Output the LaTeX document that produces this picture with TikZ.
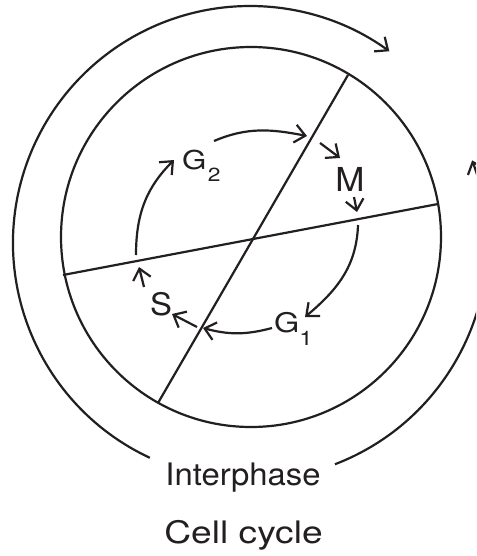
\documentclass[tikz,border=0pt]{standalone}
\usepackage{fontspec}
\setmainfont{TeX Gyre Heros}
\newfontfamily\widefont[FakeStretch=1.2]{TeX Gyre Heros}
\newfontfamily\midfont[FakeStretch=1.06]{TeX Gyre Heros}
\usetikzlibrary{arrows.meta}
\definecolor{ink}{RGB}{35,31,32}
\begin{document}
\begin{tikzpicture}[x=1pt,y=1pt,
  ln/.style={line width=2.2pt, draw=ink},
  arr/.style={ln, -{Straight Barb[length=10.5pt,width=18pt]}},
  lbl/.style={inner sep=0pt, anchor=base, text=ink},
  lblw/.style={inner sep=0pt, anchor=base west, text=ink}]
\useasboundingbox (0,0) rectangle (476,-556);
\clip (0,0) rectangle (476,-556);
\fill[white] (0,0) rectangle (476,-556);
% centres
\coordinate (oc) at (250,-243);
\coordinate (ic) at (251,-237);
% inner circle and dividing lines
\draw[ln] (ic) circle[radius=190];
\coordinate (l1a) at (348,-75);
\coordinate (l1b) at (158,-403);
\coordinate (l2a) at (438,-204);
\coordinate (l2b) at (63,-275);
\draw[ln] (l1a) -- (l1b);
\draw[ln] (l2a) -- (l2b);
% outer arcs
\coordinate (o1) at ([shift={(245:237)}]oc);
\coordinate (o2) at ([shift={(-69:237)}]oc);
\draw[arr] (o1) arc[start angle=245, end angle=54, radius=237];
\draw[arr] (o2) arc[start angle=-69, end angle=20.4, radius=237];
% labels
\node[lblw, font=\widefont\fontsize{26pt}{26pt}\selectfont] (g2) at (182,-169)
  {G\kern1.5pt\raisebox{-12pt}{\fontsize{19pt}{19pt}\selectfont 2}};
\node[lbl, font=\midfont\fontsize{33pt}{33pt}\selectfont] (m) at (350,-191) {M};
\node[lbl, font=\midfont\fontsize{31pt}{31pt}\selectfont] (s) at (161,-315) {S};
\node[lblw, font=\widefont\fontsize{27pt}{27pt}\selectfont] (g1) at (274,-332)
  {G\raisebox{-13pt}{\fontsize{20pt}{20pt}\selectfont 1}};
\node[lbl, font=\midfont\fontsize{31pt}{31pt}\selectfont] (inter) at (243,-485) {Interphase};
\node[lbl, font=\widefont\fontsize{31pt}{31pt}\selectfont] (cc) at (243.5,-543) {Cell cycle};
% inner arrows
\coordinate (a1s) at (136,-255); \coordinate (a1e) at (174,-160);
\draw[arr] (a1s) to[out=90,in=225] (a1e);
\coordinate (a2s) at (214,-141); \coordinate (a2e) at (307,-136);
\draw[arr] (a2s) to[out=23,in=169] (a2e);
\coordinate (a3s) at (320,-143); \coordinate (a3e) at (340,-158);
\draw[arr] (a3s) -- (a3e);
\coordinate (a4s) at (354,-197); \coordinate (a4e) at (357,-212);
\draw[arr] (a4s) -- (a4e);
\coordinate (a5s) at (358,-225); \coordinate (a5e) at (305,-317);
\draw[arr] (a5s) to[out=-92,in=40] (a5e);
\coordinate (a6s) at (272,-328); \coordinate (a6e) at (203,-328);
\draw[arr] (a6s) to[out=195,in=-15] (a6e);
\coordinate (a7s) at (197,-327); \coordinate (a7e) at (172,-314);
\draw[arr] (a7s) -- (a7e);
\coordinate (a8s) at (144,-287); \coordinate (a8e) at (139,-267);
\draw[arr] (a8s) -- (a8e);
\end{tikzpicture}
\end{document}
